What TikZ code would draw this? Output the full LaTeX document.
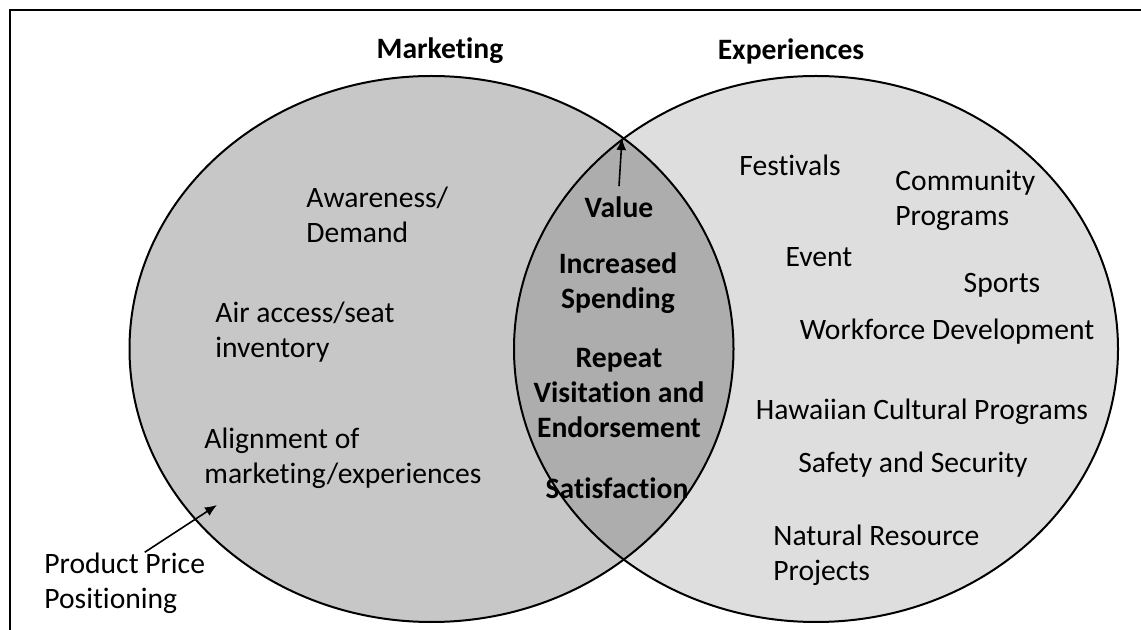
\documentclass[tikz,border=0pt]{standalone}
\usepackage{fontspec}
\setmainfont{Carlito}[RawFeature={-liga;-clig;-calt}]
\usetikzlibrary{arrows.meta}

\begin{document}
\begin{tikzpicture}[x=0.5pt,y=0.5pt]
\tikzstyle{every node}+=[inner sep=0pt,font=\fontsize{14.8}{17.5}\selectfont]
\tikzstyle{head}=[font=\fontsize{14.8}{17.5}\selectfont\bfseries]
\tikzstyle{lens}=[font=\fontsize{14.8}{17.5}\selectfont\bfseries,align=center]
\tikzstyle{item}=[align=left,anchor=west]
\tikzstyle{pointer}=[-{Latex[length=6pt,width=5pt]},line width=0.8pt]
\useasboundingbox (0,0) rectangle (1141,-630);
\draw [black,line width=1pt] (1141,-10) -- (10,-10) -- (10,-630);
\fill [black,opacity=0.22] (431.5,-349) ellipse (302 and 273);
\fill [black,opacity=0.13] (816,-349) ellipse (302 and 273);
\draw [black,line width=1pt] (431.5,-349) ellipse (302 and 273);
\draw [black,line width=1pt] (816,-349) ellipse (302 and 273);
\node [head] (mkt) at (440,-51) {Marketing};
\node [head] (exp) at (791,-51) {Experiences};
\node [item] (awr) at (306,-215) {Awareness/\\Demand};
\node [item] (air) at (215,-332) {Air access/seat\\inventory};
\node [item] (aln) at (204,-458) {Alignment of\\marketing/experiences};
\node [item] (ppp) at (44,-583) {Product Price\\Positioning};
\node [lens] (val) at (619,-207) {Value};
\node [lens] (spd) at (618,-283) {Increased\\Spending};
\node [lens] (rep) at (619,-393) {Repeat\\Visitation and\\Endorsement};
\node [lens] (sat) at (617,-488) {Satisfaction};
\node (fst) at (790,-165) {Festivals};
\node [item] (com) at (895,-200) {Community\\Programs};
\node (evt) at (819,-257) {Event};
\node (spt) at (1002,-285) {Sports};
\node (wfd) at (947,-332) {Workforce Development};
\node (hcp) at (922,-412) {Hawaiian Cultural Programs};
\node (sas) at (913,-465) {Safety and Security};
\node [item] (nrp) at (773,-555) {Natural Resource\\Projects};
\coordinate (top) at (622,-138);
\coordinate (aim) at (217,-505);
\draw [pointer] ([yshift=5pt]val.north) -- (top);
\draw [pointer] ([xshift=10pt]ppp.north) -- (aim);
\end{tikzpicture}
\end{document}
